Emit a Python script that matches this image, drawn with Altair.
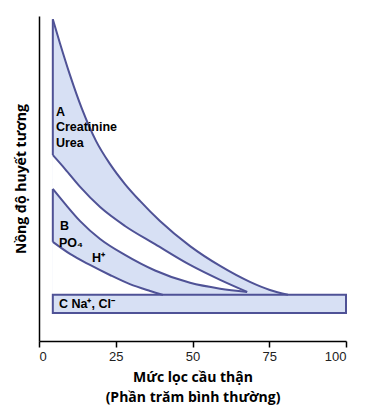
import altair as alt
import pandas as pd

# Curves (x = GFR % of normal, y = relative plasma concentration)
a_up_x = [4.5, 6.8, 10.1, 14.0, 18.6, 23.1, 28.0, 32.9, 39.4, 49.2, 59.0, 68.7, 75.2, 81.1]
a_up_y = [99.0, 91.7, 81.8, 71.4, 61.5, 54.5, 48.3, 43.1, 36.9, 29.2, 23.1, 18.2, 15.7, 14.2]

gap_x = [4.5, 8.5, 13.4, 19.9, 28.0, 37.8, 49.2, 59.0, 67.8]
a_low_y = [57.2, 52.9, 47.4, 41.2, 35.4, 29.8, 23.4, 18.8, 15.1]
b_up_y = [46.8, 42.2, 36.9, 31.4, 26.5, 21.7, 17.9, 16.1, 15.1]

b_low_x = [4.5, 10.1, 16.6, 23.1, 29.6, 36.2, 40.4]
b_low_y = [30.5, 26.8, 23.4, 20.3, 17.5, 15.4, 14.2]

c_x = [4.5, 100.0]
c_y = [8.6, 14.2]

label_text = ["A", "Creatinine", "Urea", "B", "PO\u2084", "H\u207a", "C  Na\u207a, Cl\u207b"]
label_x = [5.5, 5.5, 5.5, 6.8, 6.5, 17.3, 6.5]
label_y = [70.4, 65.8, 61.0, 35.4, 30.2, 25.5, 11.4]

x_ticks = [0, 25, 50, 75, 100]

FILL = "#d7e0f4"
STROKE = "#4f5296"

xs = alt.Scale(domain=[0, 100], nice=False)
ys = alt.Scale(domain=[0, 100], nice=False)

xaxis = alt.Axis(values=x_ticks, grid=False, domainColor="black", domainWidth=1.5,
                 tickColor="black", tickWidth=1.5, tickSize=6, labelFont="Liberation Sans",
                 labelFontSize=13, labelColor="#222222", labelPadding=3,
                 title=["Mức lọc cầu thận", "(Phần trăm bình thường)"],
                 titleFont="Open Sans", titleFontSize=14, titleFontWeight="bold",
                 titleLineHeight=20, titlePadding=7, titleColor="black")
yaxis = alt.Axis(ticks=False, labels=False, grid=False, domainColor="black", domainWidth=1.5,
                 title="Nồng độ huyết tương", titleFont="Open Sans", titleFontSize=14,
                 titleFontWeight="bold", titlePadding=11, titleColor="black")

dfA = pd.DataFrame({"x": a_up_x, "y": a_up_y, "y2": [c_y[1]] * len(a_up_x)})
dfGap = pd.DataFrame({"x": gap_x, "y": a_low_y, "y2": b_up_y})
dfB2 = pd.DataFrame({"x": b_low_x, "y": b_low_y, "y2": [c_y[1]] * len(b_low_x)})
dfC = pd.DataFrame({"x": [c_x[0]], "x2": [c_x[1]], "y": [c_y[0]], "y2": [c_y[1]]})

lines = pd.concat([
    pd.DataFrame({"x": a_up_x, "y": a_up_y, "s": "a_up"}),
    pd.DataFrame({"x": gap_x, "y": a_low_y, "s": "a_low"}),
    pd.DataFrame({"x": gap_x, "y": b_up_y, "s": "b_up"}),
    pd.DataFrame({"x": b_low_x, "y": b_low_y, "s": "b_low"}),
])
edges = pd.DataFrame({"x": [a_up_x[0], gap_x[0]], "y": [a_up_y[0], b_up_y[0]],
                      "y2": [a_low_y[0], b_low_y[0]]})
labels = pd.DataFrame({"x": label_x, "y": label_y, "t": label_text})

base_x = alt.X("x:Q", scale=xs, axis=xaxis)
base_y = alt.Y("y:Q", scale=ys, axis=yaxis)

fillA = alt.Chart(dfA).mark_area(color=FILL, interpolate="monotone").encode(x=base_x, y=base_y, y2="y2:Q")
gap = alt.Chart(dfGap).mark_area(color="white", interpolate="monotone").encode(x="x:Q", y="y:Q", y2="y2:Q")
gapB = alt.Chart(dfB2).mark_area(color="white", interpolate="monotone").encode(x="x:Q", y="y:Q", y2="y2:Q")
rectC = alt.Chart(dfC).mark_rect(fill=FILL, stroke=STROKE, strokeWidth=2).encode(
    x="x:Q", x2="x2:Q", y="y:Q", y2="y2:Q")
curveLines = alt.Chart(lines).mark_line(color=STROKE, strokeWidth=2, interpolate="monotone").encode(
    x="x:Q", y="y:Q", detail="s:N")
edgeRules = alt.Chart(edges).mark_rule(color=STROKE, strokeWidth=2).encode(x="x:Q", y="y:Q", y2="y2:Q")
text = alt.Chart(labels).mark_text(align="left", baseline="middle", font="Liberation Sans",
                                   fontWeight="bold", fontSize=12.5, color="black").encode(
    x="x:Q", y="y:Q", text="t:N")

chart = alt.layer(fillA, gap, gapB, rectC, curveLines, edgeRules, text).properties(
    width=307, height=325,
    padding={"left": 6, "top": 7, "right": 5, "bottom": 5},
).configure_view(stroke=None)

chart.save("out.html", embed_options={"renderer": "svg", "actions": False})
